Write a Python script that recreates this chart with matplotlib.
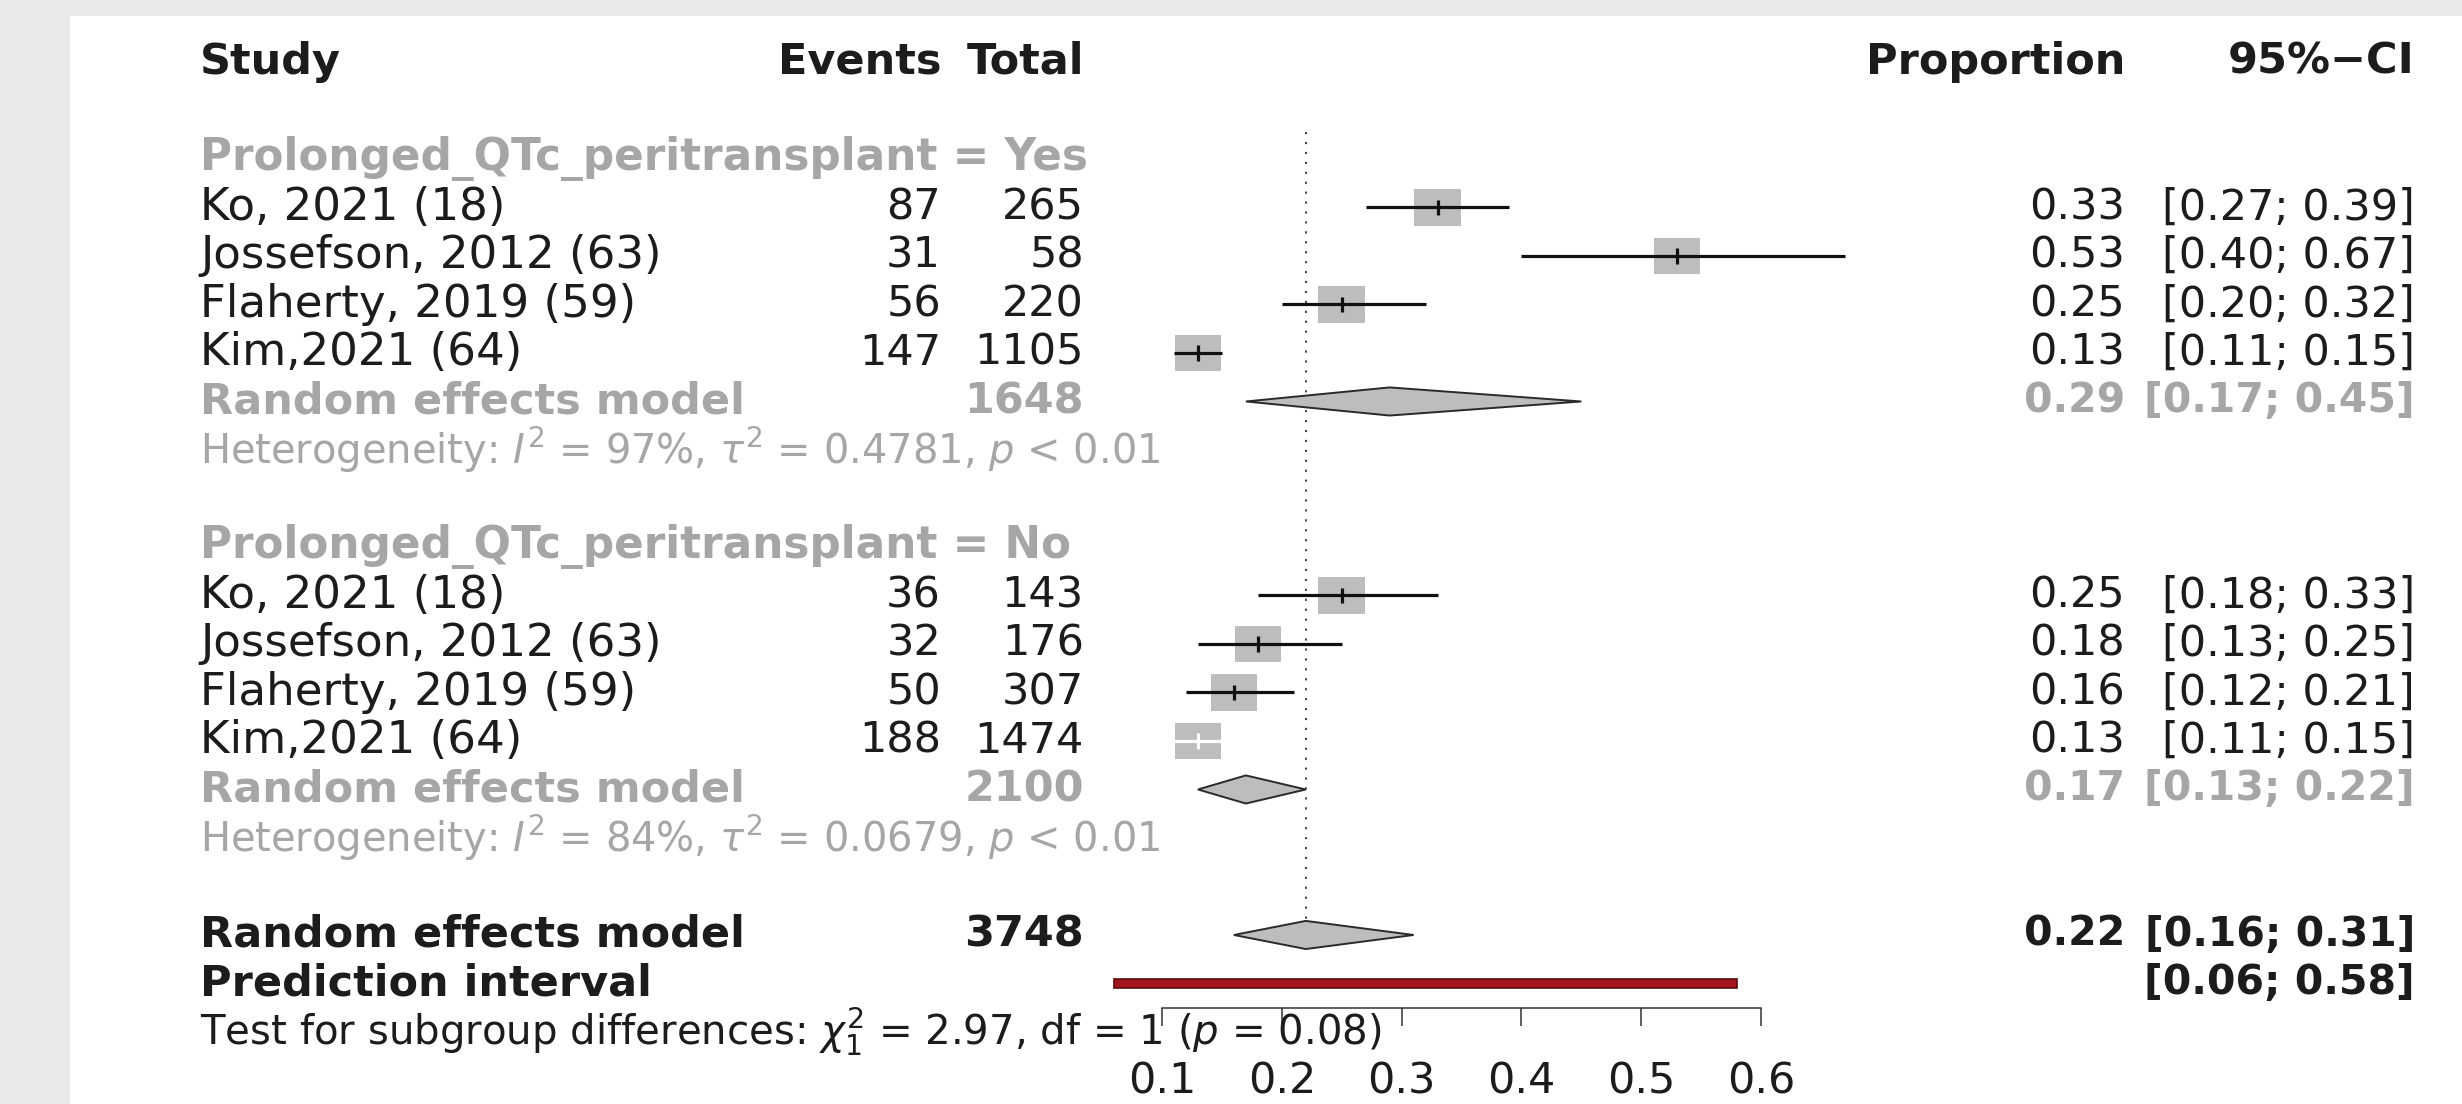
import matplotlib.pyplot as plt
import matplotlib.transforms as mtransforms
from matplotlib.patches import Rectangle, Polygon

plt.rcParams['font.family'] = ['DejaVu Sans']
plt.rcParams['mathtext.fontset'] = 'dejavusans'

# values
studies = ["Ko, 2021 (18)", "Jossefson, 2012 (63)", "Flaherty, 2019 (59)", "Kim,2021 (64)"]
subgroups = ["Prolonged_QTc_peritransplant = Yes", "Prolonged_QTc_peritransplant = No"]

yes_events = [87, 31, 56, 147]
yes_total = [265, 58, 220, 1105]
yes_prop = [0.33, 0.53, 0.25, 0.13]
yes_lower = [0.27, 0.40, 0.20, 0.11]
yes_upper = [0.39, 0.67, 0.32, 0.15]

no_events = [36, 32, 50, 188]
no_total = [143, 176, 307, 1474]
no_prop = [0.25, 0.18, 0.16, 0.13]
no_lower = [0.18, 0.13, 0.12, 0.11]
no_upper = [0.33, 0.25, 0.21, 0.15]

sub_total = [1648, 2100]
sub_prop = [0.29, 0.17]
sub_lower = [0.17, 0.13]
sub_upper = [0.45, 0.22]
sub_i2 = ["97%", "84%"]
sub_tau2 = ["0.4781", "0.0679"]
sub_pval = ["< 0.01", "< 0.01"]

overall_total = 3748
overall_prop = 0.22
overall_lower = 0.16
overall_upper = 0.31
pred_lower = 0.06
pred_upper = 0.58
chi2 = "2.97"
chi2_df = "1"
chi2_p = "0.08"

ticks = [0.1, 0.2, 0.3, 0.4, 0.5, 0.6]

# line inside the box is drawn white (CI narrower than the square)
ci_inside = [[False, False, False, False], [False, False, False, True]]

# --- styling ---
W, H = 2462, 1104
BLACK = '#1c1c1c'
GREY = '#a6a6a6'
BOX = '#bdbdbd'
FS = 31
FS_NAME = 32.5
FS_GROUP = 31.5
FS_BNUM = 29.5
FS_HET = 28.8
FS_TEST = 29

fig = plt.figure(figsize=(W / 100, H / 100), dpi=100, facecolor='#e9e9e9')
ax = fig.add_axes([70 / W, 0, 1 - 70 / W, 1 - 16 / H])
ax.set_facecolor('white')
ax.set_xlim(-0.8115, 1.1851)
ax.set_ylim(21.485, -0.948)

# x of text columns in figure fraction, y in rows
tr = mtransforms.blended_transform_factory(fig.transFigure, ax.transData)
x_study = 200 / W
x_events = 941 / W
x_total = 1084 / W
x_prop = 2125 / W
x_ci = 2415 / W


def put(x, y, s, ha='left', color=BLACK, bold=False, size=FS):
    ax.text(x, y, s, transform=tr, ha=ha, va='center', color=color,
            fontsize=size, fontweight='bold' if bold else 'normal')


def diamond(y, est, lo, hi):
    ax.add_patch(Polygon([(lo, y), (est, y - 0.29), (hi, y), (est, y + 0.29)],
                         closed=True, facecolor=BOX, edgecolor='#2a2a2a',
                         lw=1.4, zorder=3))


# header
put(x_study, 0, "Study", bold=True)
put(x_events, 0, "Events", ha='right', bold=True)
put(x_total, 0, "Total", ha='right', bold=True)
put(x_prop, 0, "Proportion", ha='right', bold=True)
put(x_ci, 0, "95%\u2212CI", ha='right', bold=True)

group_data = [
    (yes_events, yes_total, yes_prop, yes_lower, yes_upper),
    (no_events, no_total, no_prop, no_lower, no_upper),
]

bw = 46.5 / 1198   # box width in proportion units
bh = 0.76          # box height in rows

row = 2
for g, (ev, tot, pr, lo, hi) in enumerate(group_data):
    put(x_study, row, subgroups[g], color=GREY, bold=True, size=FS_GROUP)
    row += 1
    for i, name in enumerate(studies):
        put(x_study, row, name, size=FS_NAME)
        put(x_events, row, str(ev[i]), ha='right')
        put(x_total, row, str(tot[i]), ha='right')
        put(x_prop, row, f"{pr[i]:.2f}", ha='right')
        put(x_ci, row, f"[{lo[i]:.2f}; {hi[i]:.2f}]", ha='right')
        ax.add_patch(Rectangle((pr[i] - bw / 2, row - bh / 2), bw, bh,
                               facecolor=BOX, edgecolor='none', zorder=2))
        lc = 'white' if ci_inside[g][i] else '#111111'
        ax.hlines(row, lo[i], hi[i], color=lc, lw=2.3, zorder=4)
        ax.vlines(pr[i], row - 0.16, row + 0.16, color=lc, lw=2.3, zorder=4)
        row += 1
    put(x_study, row, "Random effects model", color=GREY, bold=True)
    put(x_total, row, str(sub_total[g]), ha='right', color=GREY, bold=True)
    put(x_prop, row, f"{sub_prop[g]:.2f}", ha='right', color=GREY, bold=True,
        size=FS_BNUM)
    put(x_ci, row, f"[{sub_lower[g]:.2f}; {sub_upper[g]:.2f}]", ha='right',
        color=GREY, bold=True, size=FS_BNUM)
    diamond(row, sub_prop[g], sub_lower[g], sub_upper[g])
    row += 1
    put(x_study, row,
        "Heterogeneity: $I^2$ = " + sub_i2[g] + r", $\tau^2$ = " + sub_tau2[g]
        + ", $p$ " + sub_pval[g], color=GREY, size=FS_HET)
    row += 2

# overall
put(x_study, row, "Random effects model", bold=True)
put(x_total, row, str(overall_total), ha='right', bold=True)
put(x_prop, row, f"{overall_prop:.2f}", ha='right', bold=True, size=FS_BNUM)
put(x_ci, row, f"[{overall_lower:.2f}; {overall_upper:.2f}]", ha='right',
    bold=True, size=FS_BNUM)
diamond(row, overall_prop, overall_lower, overall_upper)
overall_row = row
row += 1

put(x_study, row, "Prediction interval", bold=True)
put(x_ci, row, f"[{pred_lower:.2f}; {pred_upper:.2f}]", ha='right', bold=True,
    size=FS_BNUM)
ax.add_patch(Rectangle((pred_lower, row - 0.1), pred_upper - pred_lower, 0.2,
                       facecolor='#a3161f', edgecolor='#5e0a0e', lw=1.2, zorder=3))
pred_row = row
row += 1

put(x_study, row,
    r"Test for subgroup differences: $\chi^2_1$ = " + chi2 + ", df = " + chi2_df
    + " ($p$ = " + chi2_p + ")", size=FS_TEST)

# dotted line at the overall estimate
ax.vlines(overall_prop, 1.45, overall_row - 0.29, color='#333333', lw=1.3,
          linestyles=(0, (1.2, 4.3)), zorder=1)

# x axis
for side in ['top', 'left', 'right']:
    ax.spines[side].set_visible(False)
ax.spines['bottom'].set_position(('data', pred_row + 0.5))
ax.spines['bottom'].set_bounds(ticks[0], ticks[-1])
ax.spines['bottom'].set_linewidth(1.1)
ax.spines['bottom'].set_color('#333333')
ax.set_xticks(ticks)
ax.set_xticklabels([f"{t:.1f}" for t in ticks])
ax.tick_params(axis='x', direction='out', length=13, width=1.1, color='#333333',
               labelsize=FS, labelcolor=BLACK, pad=25)
ax.set_yticks([])

fig.savefig('out.png', dpi=100, facecolor=fig.get_facecolor())
